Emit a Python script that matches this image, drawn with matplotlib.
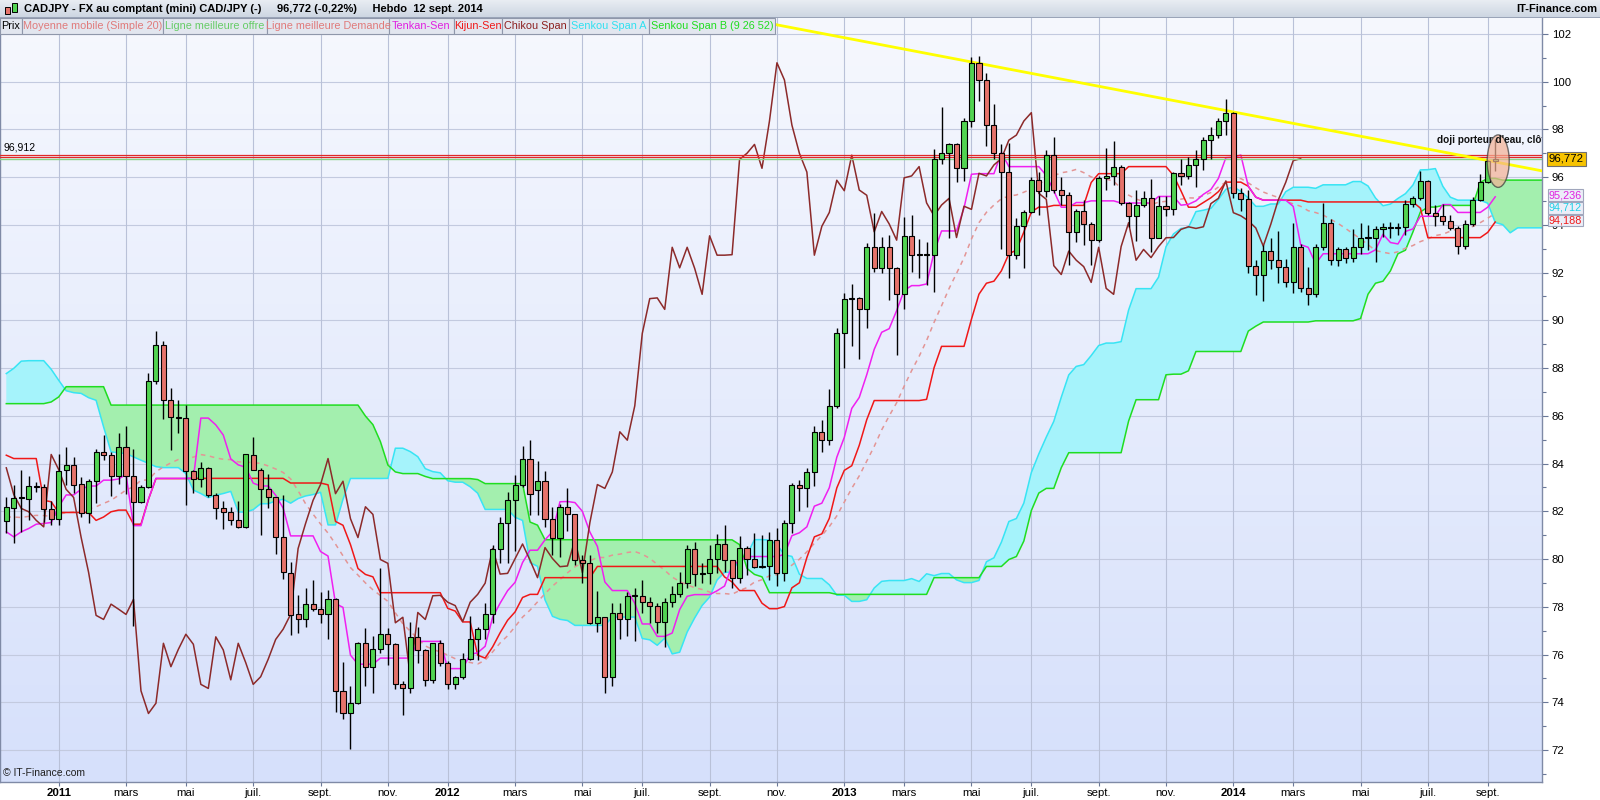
import numpy as np
import pandas as pd
import matplotlib
matplotlib.use("Agg")
import matplotlib.pyplot as plt
from matplotlib.patches import Rectangle, Ellipse
from matplotlib.transforms import blended_transform_factory
from matplotlib.colors import LinearSegmentedColormap

plt.rcParams['font.family'] = ['Liberation Sans', 'DejaVu Sans']

# ---------------- data ----------------
start_date = '2010-11-15'   # Monday of first weekly bar

opens = [81.60, 82.12, 82.57, 82.53, 83.08, 83.00, 82.08, 81.69, 83.72, 83.92,
         83.14, 81.91, 83.25, 84.50, 84.34, 83.47, 84.70, 83.47, 82.37, 83.00,
         87.44, 88.97, 86.65, 85.93, 85.89, 83.69, 83.37, 83.82, 82.70, 82.12,
         81.98, 81.62, 81.35, 84.35, 83.75, 82.92, 82.58, 80.91, 79.43, 77.68,
         77.47, 78.11, 77.90, 77.68, 78.31, 74.48, 73.53, 73.96, 76.47, 75.49,
         76.22, 76.85, 76.43, 74.75, 74.58, 76.74, 76.19, 74.94, 76.47, 75.66,
         74.75, 75.07, 75.80, 76.63, 77.06, 77.68, 80.44, 81.49, 82.46, 83.12,
         84.21, 82.89, 83.26, 81.69, 80.90, 82.19, 81.87, 79.98, 79.82, 77.33,
         77.56, 75.06, 77.76, 77.47, 78.46, 78.45, 78.19, 78.05, 77.38, 78.19,
         78.52, 78.99, 80.44, 79.37, 79.40, 80.02, 80.63, 79.95, 79.22, 80.48,
         80.02, 79.68, 79.71, 80.81, 79.43, 81.53, 83.12, 82.96, 83.65, 85.33,
         84.98, 86.42, 89.45, 90.91, 90.94, 90.46, 93.06, 92.20, 93.06, 92.18,
         91.09, 93.54, 92.73, 92.73, 92.75, 96.74, 97.00, 97.37, 96.37, 98.35,
         100.79, 100.07, 98.18, 97.00, 96.21, 92.73, 93.94, 94.52, 95.87, 95.43,
         96.92, 95.46, 95.24, 93.71, 94.56, 94.04, 93.36, 95.97, 96.05, 96.44,
         94.92, 94.38, 94.83, 95.11, 93.47, 94.78, 94.65, 96.16, 96.05, 96.51,
         96.78, 97.55, 97.76, 98.35, 98.70, 95.32, 95.07, 92.29, 91.92, 92.90,
         92.52, 92.25, 91.59, 93.06, 91.34, 91.09, 93.09, 94.09, 92.52, 92.97,
         92.63, 93.09, 93.46, 93.46, 93.81, 93.92, 93.85, 93.92, 94.89, 95.11,
         95.84, 94.51, 94.38, 94.17, 93.87, 93.11, 94.02, 95.04, 95.80, 96.69]

highs = [82.58, 83.10, 83.72, 83.47, 83.21, 83.16, 82.45, 84.39, 84.70, 84.28,
         83.44, 83.37, 84.63, 85.19, 84.50, 85.29, 85.59, 84.63, 83.10, 87.80,
         89.55, 89.15, 87.15, 86.65, 86.45, 83.72, 84.07, 83.87, 82.75, 82.45,
         82.19, 82.45, 84.42, 85.12, 83.81, 83.58, 82.60, 82.67, 79.89, 78.49,
         78.77, 79.13, 78.63, 78.70, 78.35, 75.67, 74.69, 76.54, 77.10, 76.77,
         79.64, 77.11, 76.50, 74.87, 77.36, 77.14, 76.22, 76.50, 76.61, 75.71,
         75.09, 76.05, 77.61, 77.14, 78.15, 80.58, 81.76, 82.81, 83.51, 84.72,
         84.98, 84.10, 83.68, 82.16, 82.30, 82.96, 81.90, 80.16, 80.16, 78.66,
         77.59, 78.15, 78.15, 78.63, 78.77, 79.12, 78.42, 78.15, 78.35, 78.89,
         79.47, 80.58, 80.72, 79.82, 80.58, 81.04, 81.44, 79.98, 80.96, 80.53,
         81.11, 81.00, 81.14, 81.32, 81.62, 83.19, 83.33, 83.83, 85.56, 85.81,
         87.11, 89.66, 91.13, 91.52, 90.99, 93.25, 94.51, 93.50, 93.57, 92.25,
         94.34, 94.41, 93.39, 93.29, 97.16, 98.95, 97.41, 97.41, 98.46, 101.04,
         101.09, 100.35, 99.06, 97.39, 97.41, 94.27, 94.62, 95.99, 96.23, 97.14,
         97.69, 95.99, 95.39, 94.65, 95.04, 94.13, 96.05, 97.21, 97.51, 96.51,
         94.96, 95.48, 95.43, 95.94, 95.21, 95.21, 96.23, 96.78, 96.85, 97.14,
         97.69, 98.09, 98.46, 99.26, 98.74, 95.53, 95.46, 92.52, 93.16, 93.43,
         93.74, 92.59, 94.09, 93.20, 92.22, 93.18, 94.92, 94.23, 93.09, 93.06,
         93.81, 94.06, 93.99, 93.94, 94.06, 94.11, 94.06, 95.04, 95.21, 96.27,
         95.90, 94.82, 94.89, 94.41, 93.94, 94.20, 95.18, 96.13, 96.71, 97.58]

lows = [81.07, 80.67, 81.14, 81.62, 82.80, 81.54, 81.42, 81.42, 83.12, 82.75,
        81.76, 81.49, 82.35, 84.17, 82.64, 83.16, 82.74, 77.21, 82.33, 82.96,
        87.35, 85.87, 84.56, 85.26, 82.26, 82.77, 83.03, 82.60, 81.69, 81.24,
        81.42, 81.28, 81.32, 83.71, 81.00, 82.12, 80.23, 79.15, 76.82, 76.92,
        77.17, 77.84, 77.34, 76.67, 73.60, 73.28, 72.06, 73.93, 74.68, 74.37,
        76.08, 75.56, 74.54, 73.46, 74.40, 75.63, 74.68, 74.80, 75.52, 74.54,
        74.54, 74.99, 75.76, 75.76, 76.63, 77.31, 79.82, 79.84, 80.34, 83.03,
        81.83, 81.83, 81.35, 80.16, 80.09, 81.18, 79.75, 79.01, 77.28, 76.96,
        74.40, 74.68, 76.67, 76.77, 76.58, 77.72, 77.31, 76.89, 76.30, 78.01,
        78.42, 78.77, 78.85, 78.99, 78.96, 79.40, 79.47, 78.77, 79.01, 79.33,
        79.61, 79.61, 79.13, 78.87, 79.06, 81.10, 82.02, 82.19, 83.06, 84.49,
        84.79, 86.31, 87.99, 88.94, 88.40, 89.70, 92.04, 92.00, 90.87, 88.54,
        90.46, 92.04, 91.79, 91.48, 91.20, 96.55, 93.43, 95.80, 95.84, 98.09,
        99.20, 97.30, 96.78, 92.98, 91.79, 92.55, 92.18, 94.48, 94.41, 95.18,
        95.32, 94.83, 92.32, 93.29, 93.16, 92.32, 93.29, 95.46, 95.67, 94.83,
        93.92, 93.34, 94.76, 92.87, 93.43, 94.37, 94.41, 95.67, 95.94, 95.60,
        96.30, 96.78, 97.62, 97.76, 95.11, 94.59, 91.97, 91.06, 90.81, 92.14,
        91.57, 91.41, 91.13, 91.20, 90.66, 90.99, 92.94, 92.32, 92.29, 92.41,
        92.45, 92.76, 92.94, 92.45, 93.50, 93.43, 93.56, 93.57, 94.73, 95.04,
        94.41, 93.94, 94.00, 93.78, 92.77, 92.97, 93.94, 95.02, 95.76, 96.27]

closes = [82.16, 82.57, 82.56, 83.08, 83.00, 82.08, 81.69, 83.69, 83.92, 83.12,
          81.91, 83.25, 84.50, 84.34, 83.47, 84.70, 83.47, 82.37, 83.00, 87.44,
          88.97, 86.65, 85.93, 85.91, 83.69, 83.37, 83.82, 82.70, 82.12, 81.98,
          81.62, 81.35, 84.38, 83.75, 82.92, 82.58, 80.91, 79.44, 77.64, 77.47,
          78.11, 77.90, 77.68, 78.31, 74.48, 73.53, 73.96, 76.47, 75.49, 76.22,
          76.85, 76.43, 74.75, 74.58, 76.74, 76.19, 74.94, 76.47, 75.66, 74.75,
          75.07, 75.80, 76.63, 77.06, 77.68, 80.44, 81.49, 82.46, 83.12, 84.21,
          82.74, 83.26, 81.69, 80.90, 82.19, 81.87, 79.98, 79.82, 77.33, 77.56,
          75.06, 77.76, 77.47, 78.46, 78.48, 78.19, 78.05, 77.38, 78.19, 78.52,
          78.99, 80.44, 79.37, 79.40, 80.02, 80.63, 79.95, 79.22, 80.48, 80.02,
          79.68, 79.71, 80.81, 79.43, 81.53, 83.12, 82.96, 83.65, 85.33, 84.98,
          86.42, 89.45, 90.91, 90.94, 90.46, 93.06, 92.20, 93.06, 92.18, 91.09,
          93.54, 92.73, 92.73, 92.75, 96.74, 97.00, 97.37, 96.37, 98.35, 100.79,
          100.07, 98.18, 97.00, 96.21, 92.73, 93.94, 94.52, 95.87, 95.43, 96.92,
          95.46, 95.24, 93.71, 94.56, 94.04, 93.36, 95.97, 96.05, 96.44, 94.92,
          94.38, 94.83, 95.11, 93.47, 94.78, 94.65, 96.16, 96.05, 96.51, 96.78,
          97.55, 97.76, 98.35, 98.70, 95.32, 95.07, 92.29, 91.92, 92.90, 92.52,
          92.25, 91.59, 93.06, 91.34, 91.09, 93.09, 94.09, 92.52, 92.97, 92.63,
          93.09, 93.46, 93.47, 93.81, 93.92, 93.85, 93.92, 94.89, 95.11, 95.84,
          94.51, 94.38, 94.17, 93.87, 93.11, 94.02, 95.04, 95.78, 96.69, 96.772]

# indicator values read for the first bars (their history lies before the chart)
tenkan_warmup = [81.14, 80.93, 81.14, 81.28, 81.46, 81.49, 81.53, 82.19]
kijun_warmup = [84.35, 84.21, 84.21, 84.21, 84.21, 82.46, 82.40, 81.95, 81.95, 81.95,
                81.95, 81.95, 81.62, 81.76, 81.98, 82.05, 82.05, 81.46, 81.46, 82.50,
                83.37, 83.37, 83.37, 83.37, 83.37]
sma_warmup = [81.76, 81.76, 81.74, 81.79, 81.83, 81.82, 81.79, 81.88, 81.94, 81.98,
              82.05, 82.10, 82.19, 82.33, 82.46, 82.67, 82.89, 83.03, 83.30]
senkou_a_warmup = [87.77, 87.99, 88.29, 88.31, 88.31, 88.31, 87.95, 87.49, 87.05, 86.97,
                   86.94, 86.76, 86.65, 85.54, 84.49, 84.45, 84.42, 84.28, 84.14, 84.01,
                   83.87, 83.83, 83.83, 83.83, 83.58, 82.89]
senkou_b_warmup = [86.51, 86.51, 86.51, 86.51, 86.51, 86.51, 86.58, 86.79, 87.22, 87.22,
                   87.22, 87.22, 87.22, 87.22, 86.45, 86.45, 86.45, 86.45, 86.45, 86.45,
                   86.45, 86.45, 86.45, 86.45, 86.45, 86.45, 86.45, 86.45, 86.45, 86.45,
                   86.45, 86.45, 86.45, 86.45, 86.45, 86.45, 86.45, 86.45, 86.45, 86.45,
                   86.45, 86.45, 86.45, 86.45, 86.45, 86.45, 86.45, 86.45, 85.99, 85.63,
                   84.92, 83.94, 83.65, 83.58, 83.58, 83.58, 83.46, 83.37, 83.37, 83.37,
                   83.37, 83.37, 83.37, 83.33, 83.16, 83.16, 83.16, 83.16, 83.16, 83.16,
                   81.55, 81.42, 80.81, 80.81, 80.81, 80.81, 80.81]

hline_level = 96.912
last_price_text = '96,772'
side_labels = [('95,236', 95.236, '#e020e0'), ('94,712', 94.712, '#20d0e8'),
               ('94,188', 94.188, '#f01818')]
trend_idx = [128.9, 205.3]
trend_val = [100.83, 96.26]
doji_idx = 199
legend_items = ['Prix', 'Moyenne mobile (Simple 20)', 'Ligne meilleure offre',
                'Ligne meilleure Demande', 'Tenkan-Sen', 'Kijun-Sen', 'Chikou Span',
                'Senkou Span A', 'Senkou Span B (9 26 52)']
legend_colors = ['#000000', '#e07a7a', '#66cc66', '#e07a7a', '#e020e0', '#f01818',
                 '#8c2020', '#30e0f0', '#20dd20']
month_fr = {3: 'mars', 5: 'mai', 7: 'juil.', 9: 'sept.', 11: 'nov.'}

# ---------------- indicators ----------------
n = len(closes)
H = pd.Series(highs); L = pd.Series(lows); C = pd.Series(closes)
tenkan = ((H.rolling(9).max() + L.rolling(9).min()) / 2).to_numpy()
tenkan[:len(tenkan_warmup)] = tenkan_warmup
kijun = ((H.rolling(26).max() + L.rolling(26).min()) / 2).to_numpy()
kijun[:len(kijun_warmup)] = kijun_warmup
sma = C.rolling(20).mean().to_numpy()
sma[:len(sma_warmup)] = sma_warmup
shift = 26
m = n + shift
span_a = np.full(m, np.nan)
span_a[shift:] = (tenkan + kijun) / 2
span_a[:len(senkou_a_warmup)] = senkou_a_warmup
b52 = ((H.rolling(52).max() + L.rolling(52).min()) / 2).to_numpy()
span_b = np.full(m, np.nan)
span_b[shift:] = b52
span_b[:len(senkou_b_warmup)] = senkou_b_warmup
chikou = np.array(closes[shift:])

# ---------------- figure ----------------
W, Hh = 1600, 800
fig = plt.figure(figsize=(16, 8), dpi=100)
fig.patch.set_facecolor('white')

def fx(px):
    return px / W

def fy(py):
    return 1 - py / Hh

ax_left, ax_right, ax_top, ax_bot = 0, 1542, 17, 782
ax = fig.add_axes([fx(ax_left), fy(ax_bot), fx(ax_right - ax_left), (ax_bot - ax_top) / Hh])
px_per_bar = 7.482
px_per_unit = 23.87
y72_px = 750.0
x0 = -6.3 / px_per_bar
x1 = (ax_right - 6.3) / px_per_bar
y_top = 72 + (y72_px - ax_top) / px_per_unit
y_bot = 72 - (ax_bot - y72_px) / px_per_unit

# gradient background (light at top, bluer at bottom)
grad = np.linspace(0, 1, 256).reshape(-1, 1)
bg_cmap = LinearSegmentedColormap.from_list('bg', ['#f6f8fe', '#d6e0fb'])
ax.imshow(grad, extent=[x0, x1, y_bot, y_top], origin='upper', aspect='auto',
          cmap=bg_cmap, zorder=0, interpolation='bilinear')
ax.set_xlim(x0, x1)
ax.set_ylim(y_bot, y_top)

# x ticks at month starts (every 2 months)
dates = pd.date_range(start_date, periods=n, freq='7D')
xt, xl = [], []
for i in range(1, n):
    if dates[i].month != dates[i - 1].month and dates[i].month % 2 == 1:
        xt.append(i)
        xl.append(str(dates[i].year) if dates[i].month == 1 else month_fr[dates[i].month])

for v in range(72, 103, 2):
    ax.axhline(v, color='#c3cadf', lw=0.8, zorder=0.5)
for t in xt:
    ax.axvline(t, color='#b9c1d8', lw=0.8, zorder=0.5)

# cloud
xa = np.arange(m)
ax.fill_between(xa, span_a, span_b, where=span_a >= span_b, interpolate=True,
                color='#a5f3fb', lw=0, zorder=1)
ax.fill_between(xa, span_a, span_b, where=span_b > span_a, interpolate=True,
                color='#a3efae', lw=0, zorder=1)
ax.plot(xa, span_a, color='#38e4f4', lw=1.1, zorder=2)
ax.plot(xa, span_b, color='#20dd20', lw=1.1, zorder=2)

idx = np.arange(n)
ax.plot(idx, sma, color='#e39595', lw=1.1, ls=(0, (3, 3)), zorder=3)
ax.plot(idx, kijun, color='#f01818', lw=1.1, zorder=3)
ax.plot(idx, tenkan, color='#f020f0', lw=1.1, zorder=3)
ax.plot(np.arange(len(chikou)), chikou, color='#8c2a2a', lw=1.1, zorder=3)

# horizontal lines
ax.axhline(hline_level + 0.035, color='#e02828', lw=0.9, zorder=3.5)
ax.axhline(hline_level - 0.05, color='#e02828', lw=0.9, zorder=3.5)
ax.axhline(closes[-1], color='#86d486', lw=1.0, zorder=3.5)

# trend line
ax.axline((trend_idx[0], trend_val[0]), (trend_idx[1], trend_val[1]),
          color='#ffff00', lw=2.0, zorder=4)

# candles
O = np.array(opens); Cn = np.array(closes)
up = Cn >= O
body_bottom = np.minimum(O, Cn)
body_h = np.maximum(np.abs(Cn - O), 0.03)
ax.vlines(idx, lows, highs, color='black', lw=1.0, zorder=5)
ax.bar(idx, body_h, bottom=body_bottom, width=0.68,
       color=np.where(up, '#52d452', '#e6736b'), edgecolor='black',
       linewidth=0.8, zorder=6)

# doji annotation
ax.add_patch(Ellipse((doji_idx + 0.4, 96.67), 2.94, 2.2, facecolor='#f4b194',
                     edgecolor='#3a3a3a', lw=1.0, alpha=0.7, zorder=7))
ax.text(191.2, 97.55, "doji porteur d'eau, clôture", fontsize=7.2, fontweight='bold',
        color='#111111', ha='left', va='center', clip_on=True, zorder=8)

# left label of horizontal line
bt = blended_transform_factory(ax.transAxes, ax.transData)
ax.text(0.002, hline_level + 0.12, '96,912', transform=bt,
        fontsize=7.5, color='#000000', ha='left', va='bottom', zorder=8)

# right value labels
ax.text(1.0045, closes[-1], last_price_text, transform=bt, fontsize=8.2, color='black',
        ha='left', va='center', clip_on=False, zorder=9,
        bbox=dict(boxstyle='square,pad=0.18', facecolor='#f7c300', edgecolor='#707070', lw=0.8))
for txt, val, col in side_labels:
    ax.text(1.0045, val, txt, transform=bt, fontsize=7.8, color=col, ha='left', va='center',
            clip_on=False, zorder=9,
            bbox=dict(boxstyle='square,pad=0.08', facecolor='#eceef8', edgecolor='#a0a6bc', lw=0.8))

# axes styling
ax.spines['top'].set_visible(False)
for s in ['right', 'bottom', 'left']:
    ax.spines[s].set_color('#7f8aa6')
    ax.spines[s].set_linewidth(1.0)
ax.yaxis.tick_right()
ax.set_yticks(range(72, 103, 2))
ax.set_yticks(range(71, 103, 2), minor=True)
ax.tick_params(axis='y', which='major', direction='out', length=4, width=0.8,
               color='#6a7898', labelsize=8.2, pad=3)
ax.tick_params(axis='y', which='minor', direction='out', length=3, width=0.8, color='#6a7898')
ax.set_xticks(xt)
ax.set_xticklabels(xl)
ax.tick_params(axis='x', direction='out', length=3, width=0.8, color='#6a7898',
               labelsize=8.2, pad=1.5)
for lab in ax.get_xticklabels():
    if lab.get_text().isdigit():
        lab.set_fontweight('bold')

# ---------------- header bar ----------------
hax = fig.add_axes([0, fy(17), 1, 17 / Hh])
hcm = LinearSegmentedColormap.from_list('hd', ['#e9edf3', '#cdd6e2'])
hax.imshow(grad, extent=[0, 1, 0, 1], aspect='auto', cmap=hcm, origin='upper',
           interpolation='bilinear')
hax.set_xlim(0, 1); hax.set_ylim(0, 1)
hax.axis('off')
fig.text(fx(24), fy(8.5), 'CADJPY - FX au comptant (mini) CAD/JPY (-)     96,772 (-0,22%)     Hebdo  12 sept. 2014',
         fontsize=8.0, fontweight='bold', ha='left', va='center', color='#000000')
fig.text(fx(1597), fy(8.5), 'IT-Finance.com', fontsize=8.0, fontweight='bold',
         ha='right', va='center', color='#000000')
for (cx, ytop, ybot, col) in [(7, 7, 14, '#e6736b'), (14, 3, 12, '#52d452')]:
    fig.add_artist(Rectangle((fx(cx - 2.5), fy(ybot)), fx(5), (ybot - ytop) / Hh,
                             transform=fig.transFigure, facecolor=col, edgecolor='black',
                             lw=0.7, zorder=20))
fig.add_artist(Rectangle((0, fy(17.5)), 1, 1 / Hh, transform=fig.transFigure,
                         facecolor='#9aa4b8', edgecolor='none', zorder=20))

# ---------------- legend row ----------------
edges = [0, 22, 163, 267, 389, 454, 502, 569, 649, 775]
for k, lbl in enumerate(legend_items):
    xa0, xa1 = edges[k], edges[k + 1]
    fig.add_artist(Rectangle((fx(xa0), fy(34)), fx(xa1 - xa0), 16 / Hh,
                             transform=fig.transFigure, facecolor='#e2e6ef',
                             edgecolor='#8f97aa', lw=0.8, zorder=20))
    fig.text(fx((xa0 + xa1) / 2), fy(26), lbl, fontsize=7.8, color=legend_colors[k],
             ha='center', va='center', zorder=21)

# watermark
fig.text(fx(3), fy(773), '© IT-Finance.com', fontsize=7.5, color='#202020',
         ha='left', va='center', zorder=21)

fig.savefig('out.png', dpi=100)
